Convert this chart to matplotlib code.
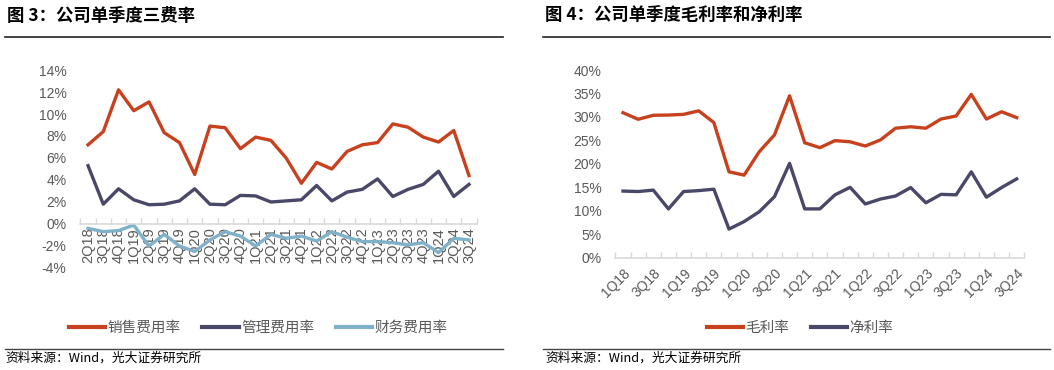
import numpy as np
import matplotlib
matplotlib.use("Agg")
import matplotlib.pyplot as plt
from matplotlib.lines import Line2D

plt.rcParams['font.family'] = ['Liberation Sans', 'Noto Sans CJK SC', 'DejaVu Sans']

# ---- data ----
q_left = ["2Q18", "3Q18", "4Q18",
          "1Q19", "2Q19", "3Q19", "4Q19",
          "1Q20", "2Q20", "3Q20", "4Q20",
          "1Q21", "2Q21", "3Q21", "4Q21",
          "1Q22", "2Q22", "3Q22", "4Q22",
          "1Q23", "2Q23", "3Q23", "4Q23",
          "1Q24", "2Q24", "3Q24"]
sales_rate = [7.2, 8.4, 12.2, 10.3, 11.1, 8.3, 7.4, 4.5, 8.9, 8.75, 6.85, 7.9, 7.6,
              6.0, 3.7, 5.6, 5.0, 6.6, 7.2, 7.4, 9.1, 8.8, 7.9, 7.45, 8.5, 4.4]
admin_rate = [5.3, 1.8, 3.2, 2.2, 1.75, 1.8, 2.1, 3.2, 1.8, 1.75, 2.6, 2.55, 2.0,
              2.1, 2.2, 3.5, 2.1, 2.9, 3.15, 4.1, 2.5, 3.15, 3.6, 4.8, 2.5, 3.6]
fin_rate = [-0.4, -0.7, -0.6, -0.1, -2.0, -0.95, -2.0, -2.5, -1.45, -0.7, -1.1, -2.0, -0.95,
            -1.3, -1.1, -1.55, -0.7, -1.2, -1.6, -1.6, -1.7, -1.9, -1.7, -2.6, -1.3, -1.45]
yticks_left = [-4, -2, 0, 2, 4, 6, 8, 10, 12, 14]

q_right = ["1Q18"] + q_left
gross_margin = [30.9, 29.5, 30.35, 30.4, 30.55, 31.3, 28.8, 18.3, 17.6, 22.6, 26.15, 34.5,
                24.5, 23.45, 24.95, 24.7, 23.8, 25.1, 27.6, 27.9, 27.6, 29.55, 30.2, 34.8,
                29.55, 31.1, 29.85]
net_margin = [14.2, 14.1, 14.4, 10.4, 14.1, 14.3, 14.6, 6.1, 7.7, 9.8, 13.0, 20.1,
              10.4, 10.4, 13.4, 15.0, 11.45, 12.5, 13.15, 14.95, 11.7, 13.5, 13.4, 18.3,
              12.9, 14.95, 16.8]
yticks_right = [0, 5, 10, 15, 20, 25, 30, 35, 40]

RED = "#C8411E"
NAVY = "#4A4869"
LBLUE = "#7FB1C8"
GRAY = "#595959"
AXC = "#D9D9D9"
CJK = ['Noto Sans CJK SC', 'DejaVu Sans']

fig = plt.figure(figsize=(10.54, 3.7), dpi=100)


def style_axis(ax, n):
    for s in ["top", "right", "left"]:
        ax.spines[s].set_visible(False)
    ax.spines["bottom"].set_color(AXC)
    ax.spines["bottom"].set_linewidth(1.2)
    ax.set_xlim(-0.5, n - 0.5)
    ax.set_xticks(np.arange(-0.5, n, 1.0), minor=True)
    ax.tick_params(axis="x", which="major", length=0, colors=GRAY, labelsize=10)
    ax.tick_params(axis="x", which="minor", length=4, direction="in", color=AXC, width=1)
    ax.tick_params(axis="y", length=0, colors=GRAY, labelsize=10, pad=10)


def style_legend(leg):
    for t in leg.get_texts():
        t.set_color(GRAY)
    for h in leg.get_lines():
        h.set_linewidth(3)


# ---- left chart ----
axl = fig.add_axes([0.0763, 0.2757, 0.3759, 0.5351])
x = np.arange(len(q_left))
axl.plot(x, sales_rate, color=RED, lw=2.4, label="销售费用率")
axl.plot(x, admin_rate, color=NAVY, lw=2.4, label="管理费用率")
axl.plot(x, fin_rate, color=LBLUE, lw=2.4, label="财务费用率")
style_axis(axl, len(q_left))
axl.spines["bottom"].set_position(("data", 0))
axl.set_ylim(-4, 14)
axl.set_yticks(yticks_left)
axl.set_yticklabels([f"{v}%" for v in yticks_left])
axl.set_xticks(x)
axl.set_xticklabels(q_left, rotation=90, va="top")
axl.tick_params(axis="x", which="major", pad=2, labelsize=10.5)
legl = axl.legend(loc="center", bbox_to_anchor=(0.245, 0.114), bbox_transform=fig.transFigure,
                  ncol=3, frameon=False, handlelength=2.5, handletextpad=0.15,
                  columnspacing=1.5, prop={'family': CJK, 'size': 10.5})
style_legend(legl)

# ---- right chart ----
axr = fig.add_axes([0.5839, 0.3035, 0.3879, 0.5073])
xr = np.arange(len(q_right))
axr.plot(xr, gross_margin, color=RED, lw=2.4, label="毛利率")
axr.plot(xr, net_margin, color=NAVY, lw=2.4, label="净利率")
style_axis(axr, len(q_right))
axr.set_ylim(0, 40)
axr.set_yticks(yticks_right)
axr.set_yticklabels([f"{v}%" for v in yticks_right])
axr.set_xticks(xr[::2])
axr.set_xticklabels(q_right[::2], rotation=45, ha="right", va="top", rotation_mode="anchor")
axr.tick_params(axis="x", which="major", pad=6)
legr = axr.legend(loc="center", bbox_to_anchor=(0.759, 0.114), bbox_transform=fig.transFigure,
                  ncol=2, frameon=False, handlelength=2.5, handletextpad=0.15,
                  columnspacing=1.5, prop={'family': CJK, 'size': 10.5})
style_legend(legr)

# ---- titles, rules, source ----
fig.text(7 / 1054, 1 - 16 / 370, "图 3：公司单季度三费率", family=CJK, fontsize=12.5,
         fontweight="bold", va="center", ha="left")
fig.text(545 / 1054, 1 - 16 / 370, "图 4：公司单季度毛利率和净利率", family=CJK, fontsize=12.5,
         fontweight="bold", va="center", ha="left")
for x0, x1 in [(5, 503), (543, 1050)]:
    fig.add_artist(Line2D([x0 / 1054, x1 / 1054], [1 - 37 / 370] * 2, color="#222222", lw=1.2,
                          transform=fig.transFigure))
    fig.add_artist(Line2D([x0 / 1054, x1 / 1054], [1 - 349 / 370] * 2, color="#444444", lw=1.0,
                          transform=fig.transFigure))
fig.text(5 / 1054, 1 - 358 / 370, "资料来源：Wind，光大证券研究所", family=CJK, fontsize=9.2,
         va="center", ha="left")
fig.text(545 / 1054, 1 - 358 / 370, "资料来源：Wind，光大证券研究所", family=CJK, fontsize=9.2,
         va="center", ha="left")

fig.savefig("out.png", dpi=100)
